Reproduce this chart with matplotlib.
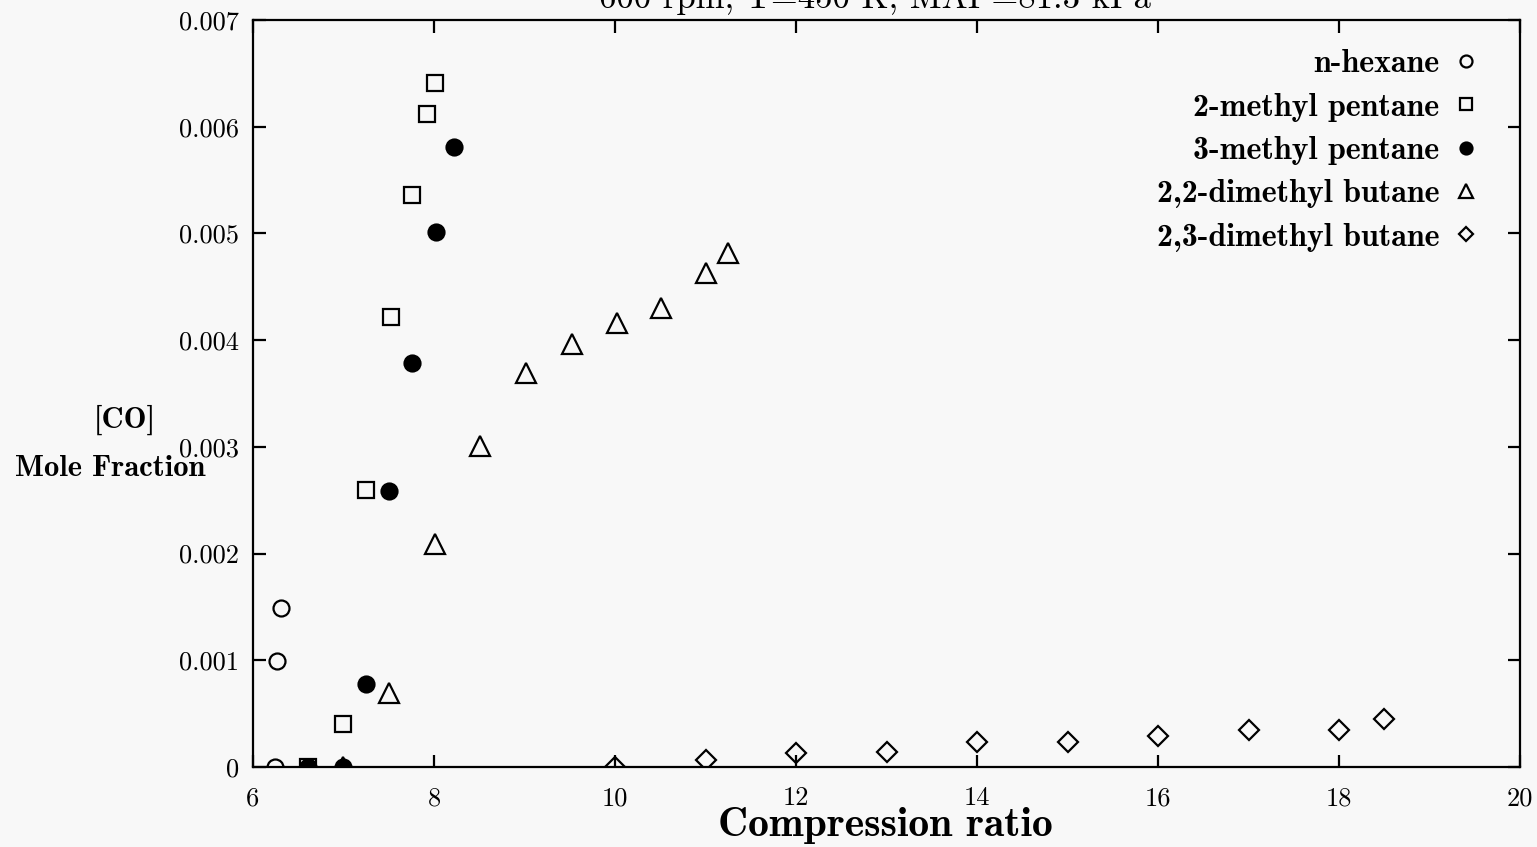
import numpy as np
import matplotlib
matplotlib.use('Agg')
import matplotlib.pyplot as plt
from matplotlib.ticker import FixedLocator, FuncFormatter

# Computer Modern fonts shipped with matplotlib
plt.rcParams['font.family'] = ['cmr10', 'DejaVu Serif']
plt.rcParams['axes.unicode_minus'] = False
plt.rcParams['axes.formatter.use_mathtext'] = True

BG = '#f8f8f8'

# n-hexane
hex_x = [6.24, 6.26, 6.31]
hex_y = [0.0, 0.00099, 0.00149]

# 2-methyl pentane
mp2_x = [6.61, 6.99, 7.25, 7.52, 7.76, 7.92, 8.01]
mp2_y = [0.0, 0.00040, 0.00260, 0.00422, 0.00536, 0.00612, 0.00641]

# 3-methyl pentane
mp3_x = [6.61, 6.99, 7.25, 7.50, 7.76, 8.02, 8.22]
mp3_y = [0.0, 0.0, 0.00078, 0.00259, 0.00379, 0.00501, 0.00581]

# 2,2-dimethyl butane
db22_x = [6.99, 7.50, 8.01, 8.51, 9.02, 9.52, 10.02, 10.51, 11.0, 11.25]
db22_y = [0.0, 0.00069, 0.00209, 0.00301, 0.00369, 0.00396, 0.00416, 0.00430, 0.00463, 0.00482]

# 2,3-dimethyl butane
db23_x = [10.0, 11.0, 12.0, 13.0, 14.0, 15.0, 16.0, 17.0, 18.0, 18.5]
db23_y = [0.0, 0.00007, 0.00013, 0.00014, 0.00023, 0.00023, 0.00029, 0.00035, 0.00035, 0.00045]

x_ticks = [6, 8, 10, 12, 14, 16, 18, 20]
y_ticks = [0, 0.001, 0.002, 0.003, 0.004, 0.005, 0.006, 0.007]

fig = plt.figure(figsize=(15.37, 8.47), dpi=100, facecolor=BG)
ax = fig.add_axes([0.1646, 0.0944, 0.8244, 0.882])
ax.set_facecolor(BG)

ms = dict(linestyle='none', color='black', markeredgewidth=1.6)
ax.plot(hex_x, hex_y, marker='o', markersize=11.5, markerfacecolor='none', label='n-hexane', **ms)
ax.plot(mp2_x, mp2_y, marker='s', markersize=11.5, markerfacecolor='none', label='2-methyl pentane', **ms)
ax.plot(mp3_x, mp3_y, marker='o', markersize=11.5, markerfacecolor='black', label='3-methyl pentane', **ms)
ax.plot(db22_x, db22_y, marker='^', markersize=14, markerfacecolor='none', label='2,2-dimethyl butane', **ms)
ax.plot(db23_x, db23_y, marker='D', markersize=10, markerfacecolor='none', label='2,3-dimethyl butane', **ms)

ax.set_xlim(6, 20)
ax.set_ylim(0, 0.007)
ax.xaxis.set_major_locator(FixedLocator(x_ticks))
ax.yaxis.set_major_locator(FixedLocator(y_ticks))
ax.yaxis.set_major_formatter(FuncFormatter(lambda v, p: '0' if v == 0 else f'{v:.3f}'))
ax.xaxis.set_major_formatter(FuncFormatter(lambda v, p: f'{int(round(v))}'))
ax.tick_params(direction='in', length=9, width=1.6, top=True, right=True, labelsize=19)
ax.tick_params(axis='x', pad=14)
ax.tick_params(axis='y', pad=10)
for s in ax.spines.values():
    s.set_linewidth(1.6)

leg = fig.legend(*ax.get_legend_handles_labels(), loc='upper right',
                 bbox_to_anchor=(0.9623, 0.942), frameon=False, borderaxespad=0, borderpad=0,
                 markerfirst=False, markerscale=0.75, handlelength=0.8, handletextpad=0.45,
                 labelspacing=0.45, prop={'family': 'cmb10', 'size': 23})

fig.text(0.5763, 0.003, 'Compression ratio', ha='center', va='bottom', family='cmb10', fontsize=30)
fig.text(0.0813, 0.504, '[CO]', ha='center', va='center', family='cmb10', fontsize=22)
fig.text(0.0715, 0.447, 'Mole Fraction', ha='center', va='center', family='cmb10', fontsize=22)
fig.text(0.5695, 1 - 8 / 847, '600 rpm, T=450 K, MAP=81.3 kPa', ha='center', va='baseline', fontsize=25)

fig.savefig('out.png', dpi=100, facecolor=BG)
